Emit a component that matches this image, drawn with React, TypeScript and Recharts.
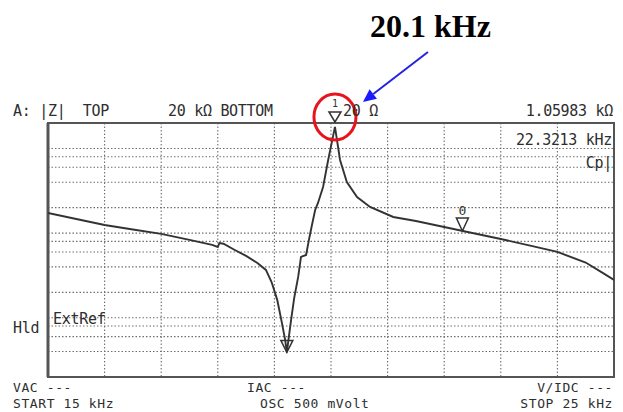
import React from 'react';
import {
  ComposedChart,
  Line,
  XAxis,
  YAxis,
  CartesianGrid,
  ReferenceDot,
  ReferenceArea,
  ReferenceLine,
} from 'recharts';

// Frequency sweep (kHz) and |Z| (ohm)
const freqKHz = [
  15, 15.5, 16, 16.5, 17, 17.5, 17.9, 18.0, 18.03, 18.1, 18.3, 18.5, 18.7, 18.85,
  18.95, 19.05, 19.13, 19.19, 19.22, 19.26, 19.3, 19.35, 19.42, 19.47, 19.56,
  19.61, 19.66, 19.72, 19.77, 19.86, 19.95, 20.07, 20.16, 20.28, 20.46, 20.69,
  21.1, 21.5, 22, 22.33, 23, 23.5, 24, 24.5, 24.8, 25,
];
const impedanceOhm = [
  1732, 1471, 1249, 1106, 979, 832, 726, 687, 766, 750, 633, 538, 445, 368,
  265, 163, 89, 55, 39, 63, 100, 172, 304, 524, 553,
  832, 1216, 1880, 2272, 3510, 7316, 18000, 7316, 4022, 2675, 2038,
  1553, 1393, 1183, 1060, 854, 716, 600, 450, 339, 280,
];

const xTicks = [15, 16, 17, 18, 19, 20, 21, 22, 23, 24, 25];
const yTicks = [40, 60, 80, 100, 200, 400, 600, 800, 1000, 2000, 4000, 6000, 8000, 10000];
const xDomain = [15, 25];
const yDomain = [20, 20000];

const peakMarker = { f: 20.07, z: 20000 };
const dipMarker = { f: 19.22, z: 39 };
const marker0 = { f: 22.3213, z: 1059.83 };

const headerLeft = 'A: |Z|  TOP';
const headerTop = '20 kΩ BOTTOM';
const headerBottom = '20 Ω';
const headerValue = '1.05983 kΩ';
const markerFreq = '22.3213 kHz';
const paramLabel = 'Cp|';
const holdLabel = 'Hld';
const refLabel = 'ExtRef';
const footer1 = ['VAC ---', 'IAC ---', 'V/IDC ---'];
const footer2 = ['START 15 kHz', 'OSC 500 mVolt', 'STOP 25 kHz'];
const title = '20.1 kHz';

const data = freqKHz.map((f, i) => ({ f, z: impedanceOhm[i] }));

const INK = '#333';
const GRID = '#6f6f6f';

const Tri = (props: any) => {
  const { cx, cy } = props;
  return (
    <path
      d={`M${cx - 6},${cy - 12} L${cx + 6},${cy - 12} L${cx},${cy} Z`}
      fill="none"
      stroke={INK}
      strokeWidth={1.5}
    />
  );
};

const PeakShape = (props: any) => {
  const { cx, cy } = props;
  const tipX = cx + 28;
  const tipY = cy - 21;
  const sx = cx + 93;
  const sy = cy - 71;
  const ang = Math.atan2(tipY - sy, tipX - sx);
  const L = 13;
  const W = 6;
  const bx = tipX - L * Math.cos(ang);
  const by = tipY - L * Math.sin(ang);
  const px = -Math.sin(ang) * W;
  const py = Math.cos(ang) * W;
  return (
    <g>
      <path
        d={`M${cx - 6},${cy - 11} L${cx + 6},${cy - 11} L${cx},${cy - 1} Z`}
        fill="none"
        stroke={INK}
        strokeWidth={1.5}
      />
      <text x={cx - 3} y={cy - 16} fontSize={10} fill={INK} fontFamily="DejaVu Sans Mono">1</text>
      <ellipse cx={cx} cy={cy - 6} rx={21} ry={23} fill="none" stroke="#e8141c" strokeWidth={3} />
      <line x1={sx} y1={sy} x2={bx} y2={by} stroke="#2323e0" strokeWidth={2} />
      <path d={`M${tipX},${tipY} L${bx + px},${by + py} L${bx - px},${by - py} Z`} fill="#1a1aff" />
    </g>
  );
};

const Marker0Shape = (props: any) => {
  const { cx, cy } = props;
  return (
    <g>
      <path
        d={`M${cx - 6},${cy - 13} L${cx + 6},${cy - 13} L${cx},${cy} Z`}
        fill="none"
        stroke={INK}
        strokeWidth={1.5}
      />
      <text x={cx} y={cy - 16} fontSize={13} textAnchor="middle" fill={INK} fontFamily="DejaVu Sans Mono">0</text>
    </g>
  );
};

const mono = {
  fontFamily: '"DejaVu Sans Mono", monospace',
  fontSize: 15,
  letterSpacing: -0.3,
  fill: '#2e2e2e',
  whiteSpace: 'pre' as const,
};

const monoSmall = {
  ...mono,
  fontSize: 13,
  letterSpacing: 0.6,
};

export default function App() {
  return (
    <div style={{ position: 'absolute', left: 0, top: 0, width: 623, height: 412, background: '#fff' }}>
      <ComposedChart
        width={623}
        height={412}
        data={data}
        margin={{ top: 123, right: 9, bottom: 35, left: 48 }}
      >
        <XAxis dataKey="f" type="number" domain={xDomain} ticks={xTicks} hide allowDataOverflow />
        <YAxis type="number" scale="log" domain={yDomain} ticks={yTicks} hide allowDataOverflow />
        <CartesianGrid
          stroke={GRID}
          strokeDasharray="1.5 2"
          strokeWidth={1.1}
          horizontal={false}
          verticalValues={xTicks.slice(1, -1)}
        />
        {yTicks.map((v) => (
          <ReferenceLine
            key={v}
            y={v}
            stroke={GRID}
            strokeDasharray="1.5 2"
            strokeWidth={1.1}
          />
        ))}
        <ReferenceArea
          x1={xDomain[0]}
          x2={xDomain[1]}
          y1={yDomain[0]}
          y2={yDomain[1]}
          fill="none"
          stroke="#555"
          strokeWidth={2}
          ifOverflow="visible"
        />
        <ReferenceLine x={xDomain[0]} stroke="#555" strokeWidth={3} ifOverflow="visible" />
        <Line
          dataKey="z"
          type="linear"
          stroke={INK}
          strokeWidth={1.9}
          dot={false}
          isAnimationActive={false}
        />
        <ReferenceDot x={dipMarker.f} y={dipMarker.z} shape={Tri} ifOverflow="visible" />
        <ReferenceDot x={marker0.f} y={marker0.z} shape={Marker0Shape} ifOverflow="visible" />
        <ReferenceDot x={peakMarker.f} y={peakMarker.z} shape={PeakShape} ifOverflow="visible" />
      </ComposedChart>
      <svg
        width={623}
        height={412}
        style={{ position: 'absolute', left: 0, top: 0, pointerEvents: 'none' }}
      >
        <text
          x={370}
          y={37}
          fontFamily='"Liberation Serif", serif'
          fontWeight="bold"
          fontSize={32}
          fill="#000"
        >
          {title}
        </text>
        <text x={13} y={116} style={mono}>{headerLeft}</text>
        <text x={168} y={116} style={mono}>{headerTop}</text>
        <text x={343} y={116} style={mono}>{headerBottom}</text>
        <text x={613} y={116} textAnchor="end" style={mono}>{headerValue}</text>
        <text x={612} y={145} textAnchor="end" style={mono}>{markerFreq}</text>
        <text x={612} y={168} textAnchor="end" style={mono}>{paramLabel}</text>
        <text x={13} y={333} style={mono}>{holdLabel}</text>
        <text x={53} y={324} style={mono}>{refLabel}</text>
        <text x={13} y={392} style={monoSmall}>{footer1[0]}</text>
        <text x={247} y={392} style={monoSmall}>{footer1[1]}</text>
        <text x={613} y={392} textAnchor="end" style={monoSmall}>{footer1[2]}</text>
        <text x={13} y={408} style={monoSmall}>{footer2[0]}</text>
        <text x={260} y={408} style={monoSmall}>{footer2[1]}</text>
        <text x={613} y={408} textAnchor="end" style={monoSmall}>{footer2[2]}</text>
      </svg>
    </div>
  );
}
